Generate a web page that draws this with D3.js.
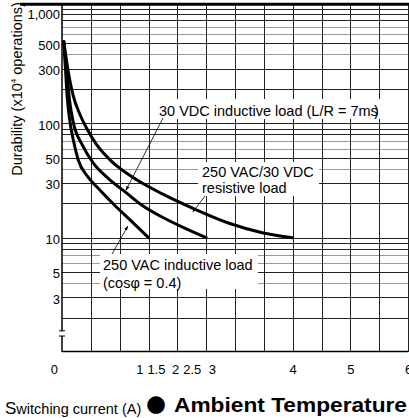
<!DOCTYPE html>
<html>
<head>
<meta charset="utf-8">
<script src="https://cdnjs.cloudflare.com/ajax/libs/d3/7.8.5/d3.min.js"></script>
<style>
body { margin: 0; background: #fff; }
text { font-family: "Liberation Sans", Arial, sans-serif; fill: #000; }
</style>
</head>
<body>
<div id="chart"></div>
<script>
// durability curves: [switching current (A), durability (x10^4 operations)]
var acInductive = [[0.03, 520], [0.06, 300], [0.09, 170], [0.13, 110], [0.2, 70], [0.28, 48],
                   [0.45, 34], [0.66, 26], [0.9, 19.5], [1.18, 14.3], [1.5, 10]];
var dcInductive = [[0.03, 520], [0.08, 300], [0.13, 160], [0.2, 100], [0.35, 65], [0.54, 45],
                   [0.8, 33], [1.1, 25], [1.4, 19], [1.75, 15], [2.1, 12.3], [2.5, 10]];
var resistive   = [[0.03, 520], [0.1, 300], [0.2, 170], [0.31, 120], [0.43, 90], [0.6, 65],
                   [0.85, 47], [1.18, 35], [1.75, 24], [2.33, 17.5], [2.91, 13.3], [3.49, 11], [4, 10]];

var yTicks = [3, 5, 10, 30, 50, 100, 300, 500, 1000];
var xTickLabels = ["0", "1", "1.5", "2", "2.5", "3", "4", "5", "6"];
// where each printed label sits along the axis (the printed 1..3 labels are squeezed)
var xTickSpots = [-0.14, 1.34, 1.63, 1.96, 2.25, 2.6, 4, 5, 6];

var W = 409, H = 418;
var svg = d3.select("#chart").append("svg").attr("width", W).attr("height", H);

var x = d3.scaleLinear().domain([0, 6]).range([62, 408]);
var y = d3.scaleLog().domain([1, 1000]).range([352, 9]);

// grid
var xGrid = d3.range(0.5, 6.01, 0.5);
var yGrid = [];
[1, 10, 100].forEach(function(dec) {
  for (var m = 1; m < 10; m++) if (dec * m >= 2) yGrid.push(dec * m);
});
yGrid.push(1000);
var greyMult = [4, 6, 7];

var grid = svg.append("g");
grid.selectAll(".hg").data(yGrid).enter().append("line")
    .attr("x1", x(0)).attr("x2", x(6))
    .attr("y1", function(d) { return Math.round(y(d)) + 0.5; })
    .attr("y2", function(d) { return Math.round(y(d)) + 0.5; })
    .attr("stroke", function(d) {
      var m = Math.round(d / Math.pow(10, Math.floor(Math.log10(d) + 1e-9)));
      return greyMult.indexOf(m) >= 0 ? "#9a9a9a" : "#222";
    })
    .attr("stroke-width", 1);
grid.selectAll(".vg").data(xGrid).enter().append("line")
    .attr("x1", function(d) { return Math.round(x(d)) + 0.5; })
    .attr("x2", function(d) { return Math.round(x(d)) + 0.5; })
    .attr("y1", y(1100)).attr("y2", y(1))
    .attr("stroke", "#222").attr("stroke-width", 1);

// top border and axes
svg.append("line").attr("x1", 20).attr("x2", W).attr("y1", y(1100)).attr("y2", y(1100))
    .attr("stroke", "#000").attr("stroke-width", 3);
svg.append("line").attr("x1", x(0)).attr("x2", x(6)).attr("y1", y(1) - 0.5).attr("y2", y(1) - 0.5)
    .attr("stroke", "#000").attr("stroke-width", 1.5);
// y axis with break
var breakHi = 1.53, breakLo = 1.38;
svg.append("line").attr("x1", x(0)).attr("x2", x(0)).attr("y1", y(1100)).attr("y2", y(breakHi))
    .attr("stroke", "#000").attr("stroke-width", 1.5);
svg.append("line").attr("x1", x(0)).attr("x2", x(0)).attr("y1", y(breakLo)).attr("y2", y(1))
    .attr("stroke", "#000").attr("stroke-width", 1.5);
[breakHi, breakLo].forEach(function(v) {
  svg.append("line").attr("x1", x(0) - 3).attr("x2", x(0) + 3).attr("y1", y(v)).attr("y2", y(v))
      .attr("stroke", "#000").attr("stroke-width", 1);
});

// curves
var line = d3.line()
    .curve(d3.curveMonotoneX)
    .x(function(d) { return x(d[0]); })
    .y(function(d) { return y(d[1]); });
svg.append("g").selectAll("path")
    .data([acInductive, dcInductive, resistive])
    .enter().append("path")
      .attr("d", line)
      .attr("fill", "none")
      .attr("stroke", "#000")
      .attr("stroke-width", 3)
      .attr("stroke-linecap", "round");

// axis labels
var yAxis = svg.append("g")
    .attr("transform", "translate(" + x(0) + ",0)")
    .call(d3.axisLeft(y).tickValues(yTicks).tickFormat(d3.format(",")).tickSize(0).tickPadding(2));
yAxis.select(".domain").remove();
yAxis.selectAll(".tick").attr("transform", function(d) { return "translate(0," + Math.max(y(d) + 2, 15) + ")"; });
yAxis.selectAll("text").attr("font-size", 13).attr("fill", "#000");

var xAxis = svg.append("g")
    .attr("transform", "translate(0," + y(1) + ")")
    .call(d3.axisBottom(x).tickValues(xTickSpots)
      .tickFormat(function(d, i) { return xTickLabels[i]; }).tickSize(0).tickPadding(13));
xAxis.select(".domain").remove();
xAxis.selectAll("text").attr("font-size", 13).attr("fill", "#000");

// annotations
svg.append("defs").append("marker")
    .attr("id", "arr").attr("viewBox", "0 0 10 10").attr("refX", 9).attr("refY", 5)
    .attr("markerWidth", 6).attr("markerHeight", 6).attr("orient", "auto")
  .append("path").attr("d", "M0,1.5L10,5L0,8.5Z").attr("fill", "#000");

var notes = [
  {lines: ["30 VDC inductive load (L/R = 7ms"], box: [153, 99, 254, 20], tx: 159, ty: 116, lh: 0,
   from: [163, 118], tip: [1.11, 26]},
  {lines: ["250 VAC/30 VDC", "resistive load"], box: [198, 162, 121, 34], tx: 202, ty: 177, lh: 15.5,
   from: [205, 196], tip: [2.27, 16.8]},
  {lines: ["250 VAC inductive load", "(cos\u03c6 = 0.4)"], box: [100, 254, 158, 35], tx: 103, ty: 270, lh: 18,
   from: [112, 254], tip: [1.14, 12.6]}
];
notes.forEach(function(n) {
  svg.append("rect").attr("x", n.box[0]).attr("y", n.box[1]).attr("width", n.box[2]).attr("height", n.box[3])
      .attr("fill", "#fff");
  svg.append("line").attr("x1", n.from[0]).attr("y1", n.from[1])
      .attr("x2", x(n.tip[0])).attr("y2", y(n.tip[1]))
      .attr("stroke", "#000").attr("stroke-width", 0.8).attr("marker-end", "url(#arr)");
  n.lines.forEach(function(t, i) {
    svg.append("text").attr("x", n.tx).attr("y", n.ty + i * n.lh).attr("font-size", 14.5).text(t);
  });
});
// the closing parenthesis prints over the "s"
svg.append("text").attr("x", 374).attr("y", 116).attr("font-size", 14.5).text(")");

// y title
var yt = svg.append("text")
    .attr("transform", "translate(22,89) rotate(-90)")
    .attr("text-anchor", "middle").attr("font-size", 14.5);
yt.append("tspan").text("Durability (x10");
yt.append("tspan").attr("font-size", 8).attr("dy", -6).text("4");
yt.append("tspan").attr("dy", 6).text(" operations)");

// bottom captions
var cap = svg.append("text").attr("x", 5).attr("y", 414).attr("font-size", 14.5);
cap.append("tspan").attr("font-size", 17).text("S");
cap.append("tspan").text("witching current (A)");
svg.append("text").attr("x", 146).attr("y", 411).attr("font-size", 23)
    .style("font-family", "DejaVu Sans, sans-serif").text("\u25cf");
svg.append("text").attr("x", 174).attr("y", 412).attr("font-size", 20).attr("font-weight", "bold")
    .attr("textLength", 233).attr("lengthAdjust", "spacingAndGlyphs").text("Ambient Temperature");
</script>
</body>
</html>
